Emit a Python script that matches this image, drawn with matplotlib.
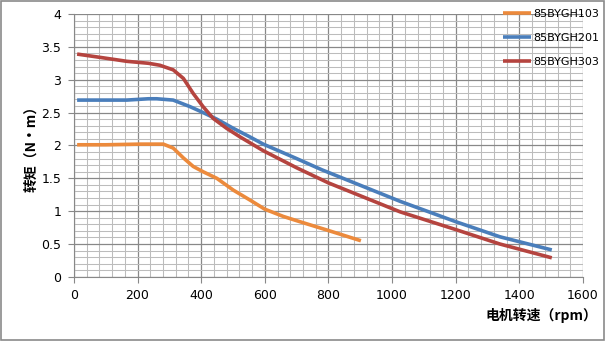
import numpy as np
import matplotlib
matplotlib.use('Agg')
import matplotlib.pyplot as plt
from matplotlib.patches import Rectangle
import matplotlib.ticker as mticker

plt.rcParams['font.family'] = ['DejaVu Sans', 'Noto Sans CJK SC']

# 85BYGH103
spd_103 = [10, 100, 207, 281, 312, 344, 375, 406, 449, 501, 553, 600, 658, 710, 797, 902]
trq_103 = [2.01, 2.01, 2.02, 2.02, 1.96, 1.81, 1.68, 1.60, 1.50, 1.32, 1.17, 1.03, 0.92, 0.84, 0.71, 0.55]
# 85BYGH201
spd_201 = [10, 166, 234, 260, 312, 365, 406, 449, 501, 553, 595, 700, 779, 1025, 1200, 1339, 1502]
trq_201 = [2.69, 2.69, 2.71, 2.71, 2.69, 2.59, 2.50, 2.40, 2.26, 2.13, 2.02, 1.80, 1.63, 1.15, 0.84, 0.61, 0.41]
# 85BYGH303
spd_303 = [10, 82, 166, 234, 270, 312, 344, 375, 406, 438, 480, 522, 595, 700, 800, 1025, 1200, 1339, 1502]
trq_303 = [3.39, 3.34, 3.28, 3.25, 3.22, 3.15, 3.02, 2.79, 2.59, 2.41, 2.26, 2.13, 1.92, 1.66, 1.43, 0.99, 0.72, 0.50, 0.29]

labels = ['85BYGH103', '85BYGH201', '85BYGH303']
colors = ['#EC8A3C', '#4A7EBB', '#B5443F']

fig = plt.figure(figsize=(6.06, 3.41), dpi=100)
ax = fig.add_axes([0.122, 0.188, 0.840, 0.771])

for x, y, lab, c in zip([spd_103, spd_201, spd_303], [trq_103, trq_201, trq_303], labels, colors):
    ax.plot(x, y, color=c, lw=2.6, label=lab, solid_capstyle='butt', solid_joinstyle='round')

ax.set_xlim(0, 1600)
ax.set_ylim(0, 4)
ax.xaxis.set_major_locator(mticker.MultipleLocator(200))
ax.xaxis.set_minor_locator(mticker.MultipleLocator(40))
ax.yaxis.set_major_locator(mticker.MultipleLocator(0.5))
ax.yaxis.set_minor_locator(mticker.MultipleLocator(0.1))
ax.yaxis.set_major_formatter(mticker.FuncFormatter(lambda v, p: ('%g' % v)))

ax.grid(which='major', color='#888888', lw=0.9)
ax.grid(which='minor', color='#bcbcbc', lw=0.75)
ax.set_axisbelow(True)
for s in ['top', 'right']:
    ax.spines[s].set_visible(False)
ax.spines['left'].set_color('#888888')
ax.spines['bottom'].set_color('#888888')
ax.tick_params(which='major', length=4, color='#888888', labelsize=9, pad=5)
ax.tick_params(which='minor', length=0)

ax.set_ylabel('转矩（N·m）', fontsize=10, fontweight='bold', family=['Noto Sans CJK SC'])
ax.yaxis.set_label_coords(-0.068, 0.5)
fig.text(0.986, 0.075, '电机转速（rpm）', fontsize=10, fontweight='bold',
         family=['Noto Sans CJK SC'], ha='right', va='center')

leg = ax.legend(loc='upper left', bbox_to_anchor=(0.834, 1.035), frameon=False, fontsize=8,
                handlelength=2.5, handletextpad=0.2, labelspacing=1.25, borderaxespad=0)

fig.patches.append(Rectangle((0.002, 0.004), 0.995, 0.992, transform=fig.transFigure,
                             fill=False, edgecolor='#8a8a8a', lw=1.2))

fig.savefig('out.png', dpi=100)
